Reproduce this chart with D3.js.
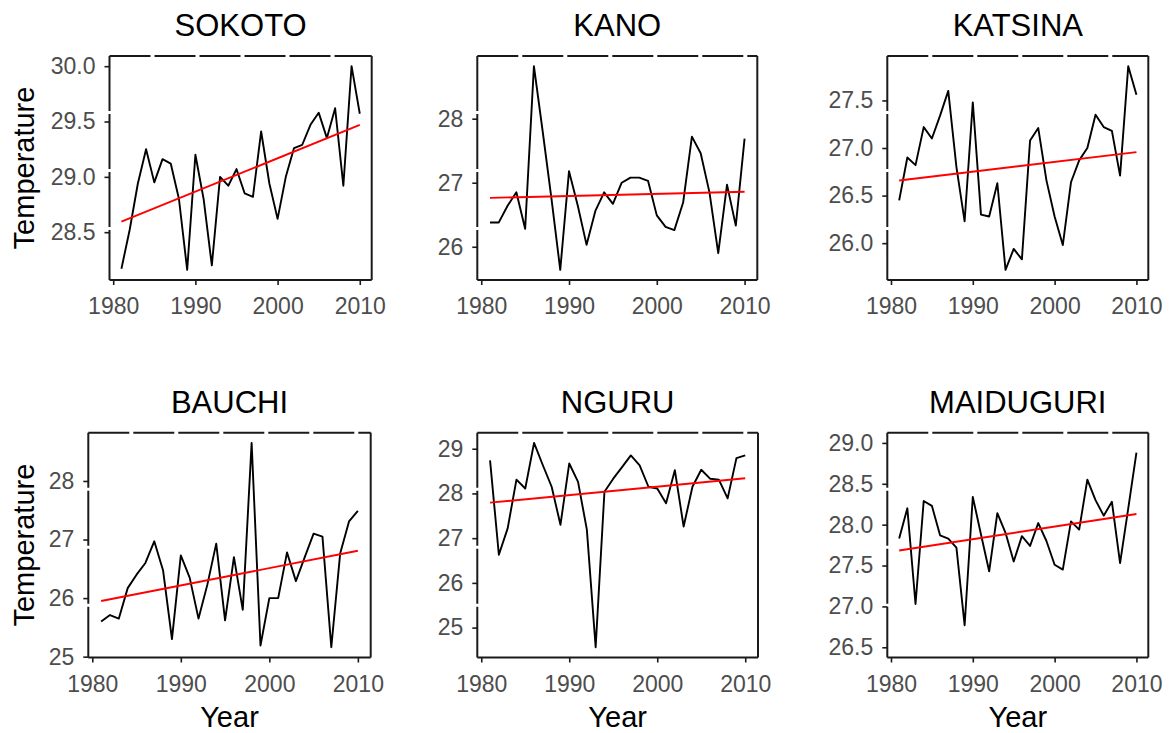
<!DOCTYPE html>
<html>
<head>
<meta charset="utf-8">
<script src="https://cdn.jsdelivr.net/npm/d3@7"></script>
<style>
  body { margin: 0; background: #fff; }
  svg { display: block; font-family: "Liberation Sans", Arial, sans-serif; }
</style>
</head>
<body>
<svg id="chart"></svg>
<script>
// years shared by all stations
const years = d3.range(1981, 2011);

const stations = ["SOKOTO", "KANO", "KATSINA", "BAUCHI", "NGURU", "MAIDUGURI"];

// annual mean temperature
const sokoto = [28.17, 28.52, 28.94, 29.25, 28.95, 29.16, 29.12, 28.8, 28.16, 29.2,
  28.8, 28.2, 29.0, 28.92, 29.07, 28.85, 28.82, 29.41, 28.94, 28.62,
  29.0, 29.26, 29.29, 29.47, 29.58, 29.35, 29.62, 28.92, 30.0, 29.57];
const kano = [26.38, 26.38, 26.64, 26.85, 26.28, 28.82, 27.8, 26.75, 25.64, 27.18,
  26.64, 26.03, 26.56, 26.85, 26.67, 27.0, 27.08, 27.08, 27.03, 26.49,
  26.31, 26.26, 26.69, 27.72, 27.46, 26.85, 25.9, 26.97, 26.33, 27.69];
const katsina = [26.45, 26.9, 26.82, 27.22, 27.1, 27.34, 27.6, 26.8, 26.23, 27.48,
  26.3, 26.28, 26.63, 25.72, 25.94, 25.83, 27.08, 27.21, 26.66, 26.28,
  25.98, 26.64, 26.87, 27.0, 27.35, 27.22, 27.18, 26.71, 27.86, 27.56];
const bauchi = [25.6, 25.71, 25.65, 26.17, 26.4, 26.6, 26.97, 26.47, 25.3, 26.73,
  26.35, 25.65, 26.23, 26.93, 25.62, 26.7, 25.8, 28.65, 25.19, 26.0,
  26.0, 26.78, 26.29, 26.7, 27.1, 27.05, 25.16, 26.76, 27.31, 27.49];
const nguru = [28.74, 26.63, 27.22, 28.31, 28.11, 29.13, 28.63, 28.15, 27.3, 28.67,
  28.26, 27.19, 24.56, 28.04, 28.33, 28.59, 28.85, 28.63, 28.15, 28.11,
  27.78, 28.52, 27.26, 28.15, 28.53, 28.33, 28.31, 27.89, 28.79, 28.85];
const maiduguri = [27.83, 28.2, 27.03, 28.29, 28.23, 27.87, 27.83, 27.72, 26.77, 28.34,
  27.88, 27.43, 28.14, 27.9, 27.55, 27.86, 27.74, 28.02, 27.8, 27.51,
  27.45, 28.04, 27.94, 28.55, 28.3, 28.11, 28.28, 27.53, 28.2, 28.88];

const series = [sokoto, kano, katsina, bauchi, nguru, maiduguri];

// fixed y limits (null = from data)
const yLimits = [null, null, null, null, null, [26.5, 29]];

// tick labels
const xTicks = [1980, 1990, 2000, 2010];
const yTicks = [
  [28.5, 29.0, 29.5, 30.0],
  [26, 27, 28],
  [26.0, 26.5, 27.0, 27.5],
  [25, 26, 27, 28],
  [25, 26, 27, 28, 29],
  [26.5, 27.0, 27.5, 28.0, 28.5, 29.0]
];
const yFormats = [".1f", "d", ".1f", "d", "d", ".1f"];

// panel boxes [left, right, top, bottom]
const boxes = [
  [109.5, 371.7, 56, 280],
  [477.3, 757.3, 56, 280],
  [887.3, 1148.3, 56, 280],
  [88.3, 370.7, 432.7, 657.5],
  [477.3, 758, 432.7, 657.5],
  [887.3, 1148.3, 432.7, 657.5]
];

const width = 1170, height = 733;
const ink = "#1a1a1a";
const svg = d3.select("#chart")
  .attr("width", width)
  .attr("height", height)
  .attr("viewBox", [0, 0, width, height]);

svg.append("rect").attr("width", width).attr("height", height).attr("fill", "#fff");

// ggplot style 5% expansion
function expand(lo, hi) {
  const pad = (hi - lo) * 0.05;
  return [lo - pad, hi + pad];
}

// least squares fit, like geom_smooth(method = "lm")
function linFit(xs, ys) {
  const mx = d3.mean(xs), my = d3.mean(ys);
  let sxy = 0, sxx = 0;
  xs.forEach((x, i) => {
    sxy += (x - mx) * (ys[i] - my);
    sxx += (x - mx) * (x - mx);
  });
  const b = sxy / sxx;
  return x => my + b * (x - mx);
}

function drawPanel(i) {
  const [l, r, t, b] = boxes[i];
  const values = series[i];
  const data = years.map((y, k) => ({ year: y, temp: values[k] }));

  const x_scale = d3.scaleLinear().domain(expand(years[0], years[years.length - 1])).range([l, r]);
  const lim = yLimits[i] || d3.extent(values);
  const y_scale = d3.scaleLinear().domain(expand(lim[0], lim[1])).range([b, t]);

  const g = svg.append("g");

  // panel border: dashed top and left, solid right
  g.append("line").attr("x1", l).attr("x2", r).attr("y1", t).attr("y2", t)
    .attr("stroke", ink).attr("stroke-width", 2).attr("stroke-dasharray", "41,4");
  g.append("line").attr("x1", r).attr("x2", r).attr("y1", t).attr("y2", b)
    .attr("stroke", ink).attr("stroke-width", 2);
  g.append("line").attr("x1", l).attr("x2", l).attr("y1", t).attr("y2", b)
    .attr("stroke", ink).attr("stroke-width", 2).attr("stroke-dasharray", "55,3");

  // x axis
  const gX = g.append("g")
    .attr("transform", `translate(0, ${b})`)
    .call(d3.axisBottom(x_scale).tickValues(xTicks).tickFormat(d3.format("d"))
      .tickSizeInner(5).tickSizeOuter(0).tickPadding(13));
  gX.select(".domain").attr("stroke", ink).attr("stroke-width", 2)
    .attr("d", `M${l},0H${r}`);
  gX.selectAll(".tick line").attr("stroke", ink).attr("stroke-width", 1.6);
  gX.selectAll("text").style("font-size", "23px").attr("fill", "#4d4d4d");

  // y axis
  const gY = g.append("g")
    .attr("transform", `translate(${l}, 0)`)
    .call(d3.axisLeft(y_scale).tickValues(yTicks[i]).tickFormat(d3.format(yFormats[i]))
      .tickSizeInner(5).tickSizeOuter(0).tickPadding(9));
  gY.select(".domain").remove();
  gY.selectAll(".tick line").attr("stroke", ink).attr("stroke-width", 1.6);
  gY.selectAll("text").style("font-size", "23px").attr("fill", "#4d4d4d");

  // temperature line
  const line = d3.line().x(d => x_scale(d.year)).y(d => y_scale(d.temp));
  g.append("path").datum(data)
    .attr("d", line)
    .attr("fill", "none")
    .attr("stroke", "#000")
    .attr("stroke-width", 1.9)
    .attr("stroke-linejoin", "round");

  // linear trend
  const fit = linFit(years, values);
  const ends = [years[0], years[years.length - 1]];
  g.append("line")
    .attr("x1", x_scale(ends[0])).attr("y1", y_scale(fit(ends[0])))
    .attr("x2", x_scale(ends[1])).attr("y2", y_scale(fit(ends[1])))
    .attr("stroke", "#ff0000")
    .attr("stroke-width", 1.9);

  // station title
  g.append("text")
    .attr("x", (l + r) / 2)
    .attr("y", t - 20)
    .attr("text-anchor", "middle")
    .style("font-size", "31px")
    .attr("fill", "#000")
    .text(stations[i]);

  // axis titles
  if (i % 3 === 0) {
    g.append("text")
      .attr("transform", `translate(34, ${(t + b) / 2}) rotate(-90)`)
      .attr("text-anchor", "middle")
      .style("font-size", "29px")
      .attr("fill", "#000")
      .text("Temperature");
  }
  if (i >= 3) {
    g.append("text")
      .attr("x", (l + r) / 2)
      .attr("y", 727)
      .attr("text-anchor", "middle")
      .style("font-size", "29px")
      .attr("fill", "#000")
      .text("Year");
  }
}

stations.forEach((s, i) => drawPanel(i));
</script>
</body>
</html>
